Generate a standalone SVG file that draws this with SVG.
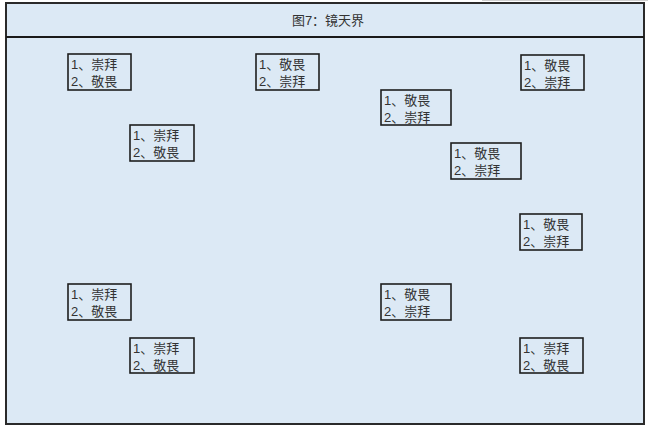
<svg xmlns="http://www.w3.org/2000/svg" width="648" height="429" viewBox="0 0 648 429">
<style>
.frame{fill:#dce9f5;stroke:#2a2a2a;stroke-width:2}
.box{fill:none;stroke:#1e1e1e;stroke-width:1.6}
.t{font-family:"Liberation Sans","Noto Sans CJK SC",sans-serif;font-size:13px;fill:#333}
.title{font-family:"Liberation Sans","Noto Sans CJK SC",sans-serif;font-size:13px;fill:#333;text-anchor:middle}
</style>
<rect width="648" height="429" fill="#ffffff"/>
<line x1="482" y1="0.5" x2="648" y2="0.5" stroke="#d0d0d0" stroke-width="1"/>
<g id="frame">
<rect class="frame" x="6" y="3" width="638" height="421"/>
<line x1="6" y1="37" x2="644" y2="37" stroke="#1a1a1a" stroke-width="2"/>
<text class="title" x="328" y="25">图7：镜天界</text>
</g>
<g id="connectors"></g>
<g id="n1"><rect class="box" x="68" y="54" width="63" height="36"/><text class="t" x="71" y="69">1、崇拜</text><text class="t" x="71" y="86">2、敬畏</text></g>
<g id="n2"><rect class="box" x="256" y="54" width="63" height="36"/><text class="t" x="259" y="69">1、敬畏</text><text class="t" x="259" y="86">2、崇拜</text></g>
<g id="n3"><rect class="box" x="521" y="55" width="63" height="35"/><text class="t" x="524" y="70">1、敬畏</text><text class="t" x="524" y="87">2、崇拜</text></g>
<g id="n4"><rect class="box" x="381" y="90" width="70" height="35"/><text class="t" x="384" y="105">1、敬畏</text><text class="t" x="384" y="122">2、崇拜</text></g>
<g id="n5"><rect class="box" x="130" y="125" width="64" height="36"/><text class="t" x="133" y="140">1、崇拜</text><text class="t" x="133" y="157">2、敬畏</text></g>
<g id="n6"><rect class="box" x="451" y="143" width="70" height="36"/><text class="t" x="454" y="158">1、敬畏</text><text class="t" x="454" y="175">2、崇拜</text></g>
<g id="n7"><rect class="box" x="520" y="214" width="62" height="36"/><text class="t" x="523" y="229">1、敬畏</text><text class="t" x="523" y="246">2、崇拜</text></g>
<g id="n8"><rect class="box" x="68" y="284" width="63" height="36"/><text class="t" x="71" y="299">1、崇拜</text><text class="t" x="71" y="316">2、敬畏</text></g>
<g id="n9"><rect class="box" x="381" y="284" width="70" height="36"/><text class="t" x="384" y="299">1、敬畏</text><text class="t" x="384" y="316">2、崇拜</text></g>
<g id="n10"><rect class="box" x="130" y="338" width="64" height="35"/><text class="t" x="133" y="353">1、崇拜</text><text class="t" x="133" y="370">2、敬畏</text></g>
<g id="n11"><rect class="box" x="520" y="338" width="63" height="35"/><text class="t" x="523" y="353">1、崇拜</text><text class="t" x="523" y="370">2、敬畏</text></g>
</svg>
